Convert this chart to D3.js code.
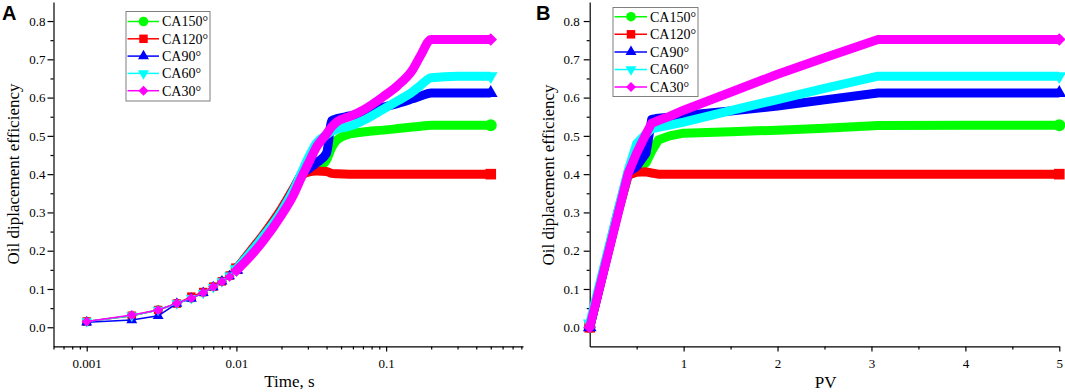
<!DOCTYPE html>
<html>
<head>
<meta charset="utf-8">
<script src="https://cdn.jsdelivr.net/npm/d3@7"></script>
<style>
    body { margin: 0; background: #fff; }
    svg { display: block; font-family: "Liberation Serif", "Times New Roman", serif; }
</style>
</head>
<body>
<div id="chart"></div>
<script>
// ---- data ----
const seriesNames = ["CA150°", "CA120°", "CA90°", "CA60°", "CA30°"];
const seriesColors = ["#00ff00", "#ff0000", "#0000ff", "#00ffff", "#ff00ff"];
const seriesSymbols = ["circle", "square", "triangleUp", "triangleDown", "diamond"];

const yTicks = [0, 0.1, 0.2, 0.3, 0.4, 0.5, 0.6, 0.7, 0.8];
const timeTicks = [0.001, 0.01, 0.1];
const pvTicks = [1, 2, 3, 4, 5];

// panel A: time, s (log axis)
const timeA = [0.001, 0.002, 0.003, 0.004, 0.005, 0.006, 0.007, 0.008, 0.009, 0.01,
    0.0123, 0.015, 0.02, 0.024, 0.0273, 0.03, 0.0344, 0.04, 0.0434, 0.047,
    0.057, 0.07, 0.096, 0.12, 0.15, 0.17, 0.2, 0.3, 0.5];
const ca150A = [0.015, 0.030, 0.045, 0.062, 0.076, 0.091, 0.106, 0.120, 0.135, 0.152,
    0.195, 0.238, 0.307, 0.360, 0.398, 0.405, 0.415, 0.437, 0.470, 0.489,
    0.505, 0.510, 0.515, 0.519, 0.523, 0.525, 0.528, 0.528, 0.528];
const ca120A = [0.015, 0.030, 0.045, 0.062, 0.080, 0.092, 0.106, 0.120, 0.135, 0.153,
    0.197, 0.240, 0.310, 0.362, 0.398, 0.405, 0.408, 0.407, 0.402, 0.401,
    0.400, 0.400, 0.400, 0.400, 0.400, 0.400, 0.400, 0.400, 0.400];
const ca90A = [0.013, 0.019, 0.030, 0.062, 0.075, 0.090, 0.105, 0.120, 0.134, 0.150,
    0.193, 0.235, 0.303, 0.357, 0.400, 0.412, 0.430, 0.455, 0.540, 0.545,
    0.552, 0.560, 0.575, 0.585, 0.597, 0.604, 0.612, 0.612, 0.612];
const ca60A = [0.015, 0.030, 0.045, 0.062, 0.076, 0.090, 0.105, 0.120, 0.135, 0.152,
    0.193, 0.235, 0.303, 0.357, 0.405, 0.440, 0.482, 0.503, 0.512, 0.518,
    0.525, 0.540, 0.570, 0.592, 0.615, 0.632, 0.652, 0.656, 0.656];
const ca30A = [0.015, 0.032, 0.045, 0.063, 0.076, 0.090, 0.106, 0.119, 0.132, 0.148,
    0.184, 0.224, 0.293, 0.345, 0.393, 0.425, 0.472, 0.505, 0.524, 0.537,
    0.550, 0.567, 0.603, 0.632, 0.672, 0.710, 0.752, 0.752, 0.752];

// panel B: PV
const pvB = [0, 0.1, 0.2, 0.3, 0.41, 0.5, 0.6, 0.66, 0.73, 0.85, 1, 1.5, 2, 2.5, 3.07, 4, 5];
const ca150B = [0, 0.100, 0.200, 0.300, 0.395, 0.410, 0.430, 0.460, 0.489, 0.500, 0.507, 0.511, 0.515, 0.520, 0.527, 0.528, 0.528];
const ca120B = [0, 0.100, 0.200, 0.300, 0.398, 0.405, 0.406, 0.403, 0.400, 0.400, 0.400, 0.400, 0.400, 0.400, 0.400, 0.400, 0.400];
const ca90B = [0, 0.100, 0.200, 0.300, 0.405, 0.420, 0.455, 0.543, 0.546, 0.549, 0.553, 0.565, 0.578, 0.594, 0.612, 0.612, 0.612];
const ca60B = [0.01, 0.108, 0.206, 0.304, 0.410, 0.480, 0.505, 0.518, 0.522, 0.528, 0.536, 0.566, 0.595, 0.624, 0.656, 0.656, 0.656];
const ca30B = [0, 0.098, 0.196, 0.294, 0.402, 0.455, 0.505, 0.533, 0.540, 0.551, 0.567, 0.614, 0.661, 0.704, 0.752, 0.752, 0.752];


class EfficiencyPanel {
    constructor(_svg, _opts) {
        this.svg = _svg;
        this.opts = _opts;

        this.initVis();
    }

    initVis() {
        const vis = this;
        const o = vis.opts;

        vis.g = vis.svg.append("g");
        vis.x = o.x;
        vis.y = d3.scaleLinear()
            .domain([-0.05, 0.85])
            .range([346.4, 1.9]);

        const bottom = vis.y.range()[0];
        const left = vis.x.range()[0];

        // minor ticks first, then major axes on top
        vis.g.append("g")
            .attr("transform", `translate(0,${bottom})`)
            .call(d3.axisBottom(vis.x).tickValues(o.xMinor).tickSize(3).tickFormat(""))
            .call(g => g.select(".domain").remove());

        vis.g.append("g")
            .attr("transform", `translate(${left},0)`)
            .call(d3.axisLeft(vis.y).tickValues(d3.range(0.05, 0.8, 0.1)).tickSize(3).tickFormat(""))
            .call(g => g.select(".domain").remove());

        vis.xAxis = vis.g.append("g")
            .attr("transform", `translate(0,${bottom})`)
            .call(d3.axisBottom(vis.x)
                .tickValues(o.xTicks)
                .tickFormat(o.xFormat)
                .tickSize(5)
                .tickSizeOuter(0)
                .tickPadding(7));

        vis.yAxis = vis.g.append("g")
            .attr("transform", `translate(${left},0)`)
            .call(d3.axisLeft(vis.y)
                .tickValues(yTicks)
                .tickFormat(d3.format(".1f"))
                .tickSize(6)
                .tickSizeOuter(0)
                .tickPadding(o.yPad));

        // d3 puts sans-serif on axis groups, switch back to the Times look
        vis.g.selectAll("g")
            .attr("font-family", "Liberation Serif, Times New Roman, serif")
            .attr("font-size", 13);
        vis.g.selectAll(".tick text").attr("fill", "#000");
        vis.g.selectAll(".domain, .tick line")
            .attr("stroke", "#000")
            .attr("stroke-width", 1.2);

        // titles
        vis.g.append("text")
            .attr("x", o.xTitlePos[0])
            .attr("y", o.xTitlePos[1])
            .attr("text-anchor", "middle")
            .attr("font-size", 17)
            .text(o.xTitle);

        vis.g.append("text")
            .attr("transform", `translate(${o.yTitlePos[0]},${o.yTitlePos[1]}) rotate(-90)`)
            .attr("text-anchor", "middle")
            .attr("dy", "0.32em")
            .attr("font-size", 17)
            .text("Oil diplacement efficiency");

        vis.g.append("text")
            .attr("x", o.letterPos[0])
            .attr("y", o.letterPos[1])
            .attr("font-family", "Liberation Sans, Arial, sans-serif")
            .attr("font-weight", "bold")
            .attr("font-size", 20)
            .text(o.letter);

        vis.wrangleData();
    }

    wrangleData() {
        const vis = this;
        const o = vis.opts;

        vis.displayData = o.values.map((vals, i) => ({
            name: seriesNames[i],
            color: seriesColors[i],
            symbol: seriesSymbols[i],
            points: o.xs.map((xv, j) => ({ x: xv, y: vals[j] }))
        }));

        vis.updateVis();
    }

    symbolPath(type) {
        const map = {
            circle: d3.symbolCircle,
            square: d3.symbolSquare,
            triangleUp: d3.symbolTriangle,
            triangleDown: d3.symbolTriangle,
            diamond: d3.symbolSquare
        };
        let size = 72;
        if (type === "diamond") size = 50;
        if (type.startsWith("triangle")) size = 52;
        return d3.symbol().type(map[type]).size(size)();
    }

    symbolRotate(type) {
        if (type === "triangleDown") return 180;
        if (type === "diamond") return 45;
        return 0;
    }

    updateVis() {
        const vis = this;
        const o = vis.opts;

        const line = d3.line()
            .x(d => vis.x(d.x))
            .y(d => vis.y(d.y));

        const band = d3.line()
            .curve(o.curve)
            .x(d => vis.x(d.x))
            .y(d => vis.y(d.y));

        const series = vis.g.append("g")
            .selectAll("g.series")
            .data(vis.displayData)
            .join("g")
            .attr("class", "series");

        // thin connecting line
        series.append("path")
            .attr("d", d => line(d.points.filter(p => p.x <= o.bandFrom)))
            .attr("fill", "none")
            .attr("stroke", d => d.color)
            .attr("stroke-width", 1.5);

        // dense part of the record shows as a thick band of overlapping symbols
        series.append("path")
            .attr("d", d => band(d.points.filter(p => p.x >= o.bandFrom)))
            .attr("fill", "none")
            .attr("stroke", d => d.color)
            .attr("stroke-width", 9)
            .attr("stroke-linejoin", "round")
            .attr("stroke-linecap", d => d.symbol === "circle" ? "round" : "butt");

        // symbols on sparse points and at the ends of the band
        series.each(function(d) {
            const last = d.points.length - 1;
            const pts = d.points.filter((p, j) => p.x <= o.bandFrom || j === last);
            d3.select(this).selectAll("path.sym")
                .data(pts)
                .join("path")
                .attr("class", "sym")
                .attr("d", vis.symbolPath(d.symbol))
                .attr("transform", p => {
                    const k = p.x >= o.bandFrom ? 1.25 : 1;
                    return `translate(${vis.x(p.x)},${vis.y(p.y)}) rotate(${vis.symbolRotate(d.symbol)}) scale(${k})`;
                })
                .attr("fill", d.color);
        });

        // legend
        const lg = o.legend;
        const leg = vis.g.append("g").attr("transform", `translate(${lg.x},${lg.y})`);
        leg.append("rect")
            .attr("width", lg.w)
            .attr("height", lg.h)
            .attr("fill", "#fff")
            .attr("stroke", "#7f7f7f")
            .attr("stroke-width", 1);

        const rows = leg.selectAll("g.row")
            .data(vis.displayData)
            .join("g")
            .attr("class", "row")
            .attr("transform", (d, i) => `translate(0,${lg.firstRow + i * lg.rowH})`);

        rows.append("line")
            .attr("x1", 1.5)
            .attr("x2", lg.lineW)
            .attr("stroke", d => d.color)
            .attr("stroke-width", 1.5);

        rows.append("path")
            .attr("d", d => vis.symbolPath(d.symbol))
            .attr("transform", d => `translate(${lg.lineW / 2 + 1},0) rotate(${vis.symbolRotate(d.symbol)})`)
            .attr("fill", d => d.color);

        rows.append("text")
            .attr("x", lg.lineW + 3)
            .attr("dy", "0.35em")
            .attr("font-family", "Liberation Serif, Times New Roman, serif")
            .attr("font-size", 14)
            .text(d => d.name);
    }
}


const svg = d3.select("#chart")
    .append("svg")
    .attr("width", 1065)
    .attr("height", 392);

const xA = d3.scaleLog().domain([0.0006, 0.821]).range([53.5, 523]);
const xB = d3.scaleLinear().domain([0, 5]).range([589.7, 1059.3]);

new EfficiencyPanel(svg, {
    x: xA,
    xs: timeA,
    values: [ca150A, ca120A, ca90A, ca60A, ca30A],
    xTicks: timeTicks,
    xMinor: xA.ticks().filter(t => !timeTicks.some(m => Math.abs(m - t) < 1e-12)),
    xFormat: d => String(d),
    xTitle: "Time, s",
    xTitlePos: [289.5, 387],
    yTitlePos: [14, 174],
    yPad: 2,
    letter: "A",
    letterPos: [2, 20],
    bandFrom: 0.01,
    curve: d3.curveMonotoneX,
    legend: { x: 126, y: 11.5, w: 84, h: 89.5, firstRow: 10, rowH: 17.3, lineW: 33 }
});

new EfficiencyPanel(svg, {
    x: xB,
    xs: pvB,
    values: [ca150B, ca120B, ca90B, ca60B, ca30B],
    xTicks: pvTicks,
    xMinor: [0.5, 1.5, 2.5, 3.5, 4.5],
    xFormat: d3.format("d"),
    xTitle: "PV",
    xTitlePos: [825.7, 388],
    yTitlePos: [549, 175],
    yPad: 4,
    letter: "B",
    letterPos: [536, 20],
    bandFrom: 0,
    curve: d3.curveLinear,
    legend: { x: 613, y: 7.5, w: 85, h: 89, firstRow: 9.2, rowH: 17.6, lineW: 34 }
});
</script>
</body>
</html>
